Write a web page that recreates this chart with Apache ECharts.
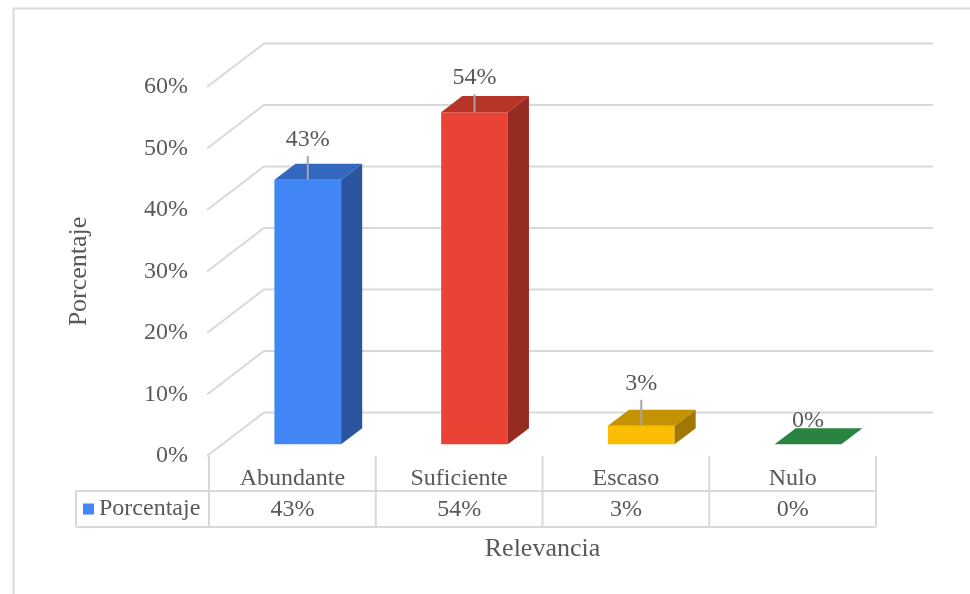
<!DOCTYPE html>
<html>
<head>
<meta charset="utf-8">
<script src="https://cdn.jsdelivr.net/npm/echarts@6/dist/echarts.min.js"></script>
<style>html,body{margin:0;padding:0;background:#fff}#c{width:970px;height:594px}</style>
</head>
<body>
<div id="c"></div>
<script>
const categories = ['Abundante', 'Suficiente', 'Escaso', 'Nulo'];
const values = [43, 54, 3, 0];
const yTicks = [0, 10, 20, 30, 40, 50, 60];
const seriesName = 'Porcentaje';
const xTitle = 'Relevancia';
const yTitle = 'Porcentaje';

const FONT = 'Liberation Serif';
const TXT = '#595959';
const GRID_C = '#D9D9D9';
const DEPTH = [57, -43.5];
const FRONT_F = 0.27, BACK_F = 0.64;
const barColors = ['#4285F4', '#EA4335', '#FBBC04', '#34A853'];
const labelLift = [40, 34, 42, 24];

function shade(hex, f) {
  const n = parseInt(hex.slice(1), 16);
  const r = Math.round(((n >> 16) & 255) * f), g = Math.round(((n >> 8) & 255) * f), b = Math.round((n & 255) * f);
  return 'rgb(' + r + ',' + g + ',' + b + ')';
}

function renderWall(params, api) {
  const v = api.value(1);
  const y = api.coord([0, v])[1];
  const cs = params.coordSys;
  const x0 = cs.x - 2;
  return {
    type: 'polyline',
    shape: { points: [[x0, y], [x0 + DEPTH[0], y + DEPTH[1]], [cs.x + cs.width + DEPTH[0], y + DEPTH[1]]] },
    style: { stroke: GRID_C, lineWidth: 2, fill: null }
  };
}

function renderBar(params, api) {
  const i = api.value(0), v = api.value(1);
  const top = api.coord([i, v]);
  const base = api.coord([i, 0]);
  const band = api.size([1, 0])[0];
  const w = band * 0.4;
  const fx = DEPTH[0] * FRONT_F, fy = DEPTH[1] * FRONT_F;
  const dx = DEPTH[0] * (BACK_F - FRONT_F), dy = DEPTH[1] * (BACK_F - FRONT_F);
  const xl = top[0] - w / 2 + fx, xr = xl + w;
  const yt = top[1] + fy, yb = base[1] + fy;
  const col = barColors[i];
  const children = [];
  if (yb - yt > 0.5) {
    children.push({ type: 'rect', shape: { x: xl, y: yt, width: w, height: yb - yt }, style: { fill: col } });
    children.push({ type: 'polygon', shape: { points: [[xr, yt], [xr + dx, yt + dy], [xr + dx, yb + dy], [xr, yb]] }, style: { fill: shade(col, 0.64) } });
  }
  children.push({ type: 'polygon', shape: { points: [[xl, yt], [xr, yt], [xr + dx, yt + dy], [xl + dx, yt + dy]] }, style: { fill: shade(col, 0.78) } });
  const lx = top[0] + fx;
  const ly = yt - labelLift[i];
  if (v > 0) {
    children.push({ type: 'line', shape: { x1: lx, y1: ly + 16, x2: lx, y2: yt }, style: { stroke: '#A6A6A6', lineWidth: 2 } });
  }
  children.push({ type: 'text', x: lx, y: ly, style: { text: v + '%', fill: TXT, font: '24px "' + FONT + '"', align: 'center', verticalAlign: 'middle' } });
  return { type: 'group', children: children };
}

function renderTable(params, api) {
  const i = api.value(0), v = api.value(1);
  const c = api.coord([i, 0]);
  const band = api.size([1, 0])[0];
  const xl = c[0] - band / 2, xr = c[0] + band / 2;
  const y0 = c[1], y1 = c[1] + 35, y2 = c[1] + 71;
  const ls = { stroke: GRID_C, lineWidth: 2 };
  const ch = [
    { type: 'line', shape: { x1: xl, y1: y0, x2: xl, y2: y2 }, style: ls },
    { type: 'line', shape: { x1: xl, y1: y1, x2: xr, y2: y1 }, style: ls },
    { type: 'line', shape: { x1: xl, y1: y2, x2: xr, y2: y2 }, style: ls },
    { type: 'text', x: c[0], y: y1 + 19, style: { text: v + '%', fill: TXT, font: '24px "' + FONT + '"', align: 'center', verticalAlign: 'middle' } }
  ];
  if (i === categories.length - 1) {
    ch.push({ type: 'line', shape: { x1: xr, y1: y0, x2: xr, y2: y2 }, style: ls });
  }
  if (i === 0) {
    const lx = 76;
    ch.push({ type: 'line', shape: { x1: lx, y1: y1, x2: xl, y2: y1 }, style: ls });
    ch.push({ type: 'line', shape: { x1: lx, y1: y2, x2: xl, y2: y2 }, style: ls });
    ch.push({ type: 'line', shape: { x1: lx, y1: y1, x2: lx, y2: y2 }, style: ls });
  }
  return { type: 'group', children: ch };
}

const chart = echarts.init(document.getElementById('c'), null, { renderer: 'canvas' });
chart.setOption({
  animation: false,
  backgroundColor: '#fff',
  textStyle: { fontFamily: FONT },
  graphic: [
    { type: 'rect', left: 11, top: 6, shape: { width: 1200, height: 1200 }, style: { fill: null, stroke: GRID_C, lineWidth: 2 }, silent: true }
  ],
  legend: {
    data: [seriesName],
    left: 83, top: 497, padding: 0,
    icon: 'rect', itemWidth: 11, itemHeight: 11, itemGap: 5,
    textStyle: { fontFamily: FONT, fontSize: 24, color: TXT }
  },
  grid: { left: 209, top: 87, width: 667, height: 369, containLabel: false },
  xAxis: {
    type: 'category', data: categories,
    axisLine: { show: false }, axisTick: { show: false }, splitLine: { show: false },
    axisLabel: { fontFamily: FONT, fontSize: 24, color: TXT, margin: 11 },
    name: xTitle, nameLocation: 'middle', nameGap: 80,
    nameTextStyle: { fontFamily: FONT, fontSize: 26, color: TXT }
  },
  yAxis: {
    type: 'value', min: 0, max: 60, interval: 10,
    axisLine: { show: false }, axisTick: { show: false }, splitLine: { show: false },
    axisLabel: { formatter: '{value}%', fontFamily: FONT, fontSize: 24, color: TXT, margin: 21 },
    name: yTitle, nameLocation: 'middle', nameGap: 117, nameRotate: 90,
    nameTextStyle: { fontFamily: FONT, fontSize: 26, color: TXT }
  },
  series: [
    { type: 'custom', name: 'walls', renderItem: renderWall, data: yTicks.map(v => [0, v]), encode: { x: 0, y: 1 }, z: 1, silent: true, clip: false },
    { type: 'custom', name: 'table', renderItem: renderTable, data: values.map((v, i) => [i, v]), encode: { x: 0, y: 1 }, z: 1, silent: true, clip: false },
    { type: 'custom', name: seriesName, renderItem: renderBar, data: values.map((v, i) => [i, v]), encode: { x: 0, y: 1 }, itemStyle: { color: barColors[0] }, z: 3, clip: false }
  ]
});
</script>
</body>
</html>
